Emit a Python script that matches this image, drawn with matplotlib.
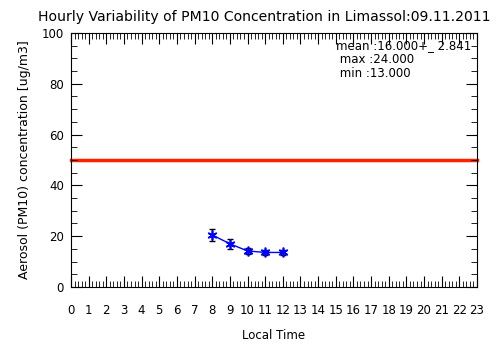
import matplotlib
matplotlib.use('Agg')
import matplotlib.pyplot as plt
import numpy as np
from matplotlib.ticker import MultipleLocator

hours = [8, 9, 10, 11, 12]
pm10 = [20.5, 17.0, 14.2, 13.6, 13.6]
pm10_err = [2.3, 2.0, 1.2, 1.0, 1.0]
limit = 50
stats_text = ['mean :16.000+_ 2.841', ' max :24.000', ' min :13.000']

plt.rcParams['font.family'] = 'DejaVu Sans'
fig = plt.figure(figsize=(5.04, 3.61), dpi=100)
ax = fig.add_axes([0.1409, 0.205, 0.8055, 0.7036])

ax.axhline(limit, color='#ff2000', lw=2.5, clip_on=False, zorder=1)
ax.plot(hours, pm10, color='blue', lw=1)
ax.errorbar(hours, pm10, yerr=pm10_err, fmt='none', ecolor='black', elinewidth=1, capsize=2.5)
ax.plot(hours, pm10, ls='none', marker=(6, 2, 0), ms=7, mec='blue', mew=1.2)

ax.set_xlim(0, 23)
ax.set_ylim(0, 100)
ax.set_xticks(range(0, 24))
ax.set_yticks(range(0, 101, 20))
ax.xaxis.set_minor_locator(MultipleLocator(0.2))
ax.yaxis.set_minor_locator(MultipleLocator(5))
ax.tick_params(which='both', direction='in', top=True, right=True, labelsize=8.5)
ax.tick_params(which='major', length=8, width=0.8)
ax.tick_params(which='minor', length=4, width=0.6)
ax.tick_params(axis='x', which='major', pad=12)
ax.tick_params(axis='y', which='major', pad=5)
for s in ax.spines.values():
    s.set_linewidth(0.8)

ax.set_xlabel('Local Time', fontsize=8.5, labelpad=9)
ax.set_ylabel('Aerosol (PM10) concentration [ug/m3]', fontsize=9, labelpad=8)

for i, t in enumerate(stats_text):
    ax.text(0.653, 0.95 - i * 0.054, t, transform=ax.transAxes, fontsize=8.5, va='center', ha='left')

fig.text(0.075, 0.952, 'Hourly Variability of PM10 Concentration in Limassol:09.11.2011',
         fontsize=10.1, ha='left', va='center')

fig.savefig('out.png', dpi=100)
